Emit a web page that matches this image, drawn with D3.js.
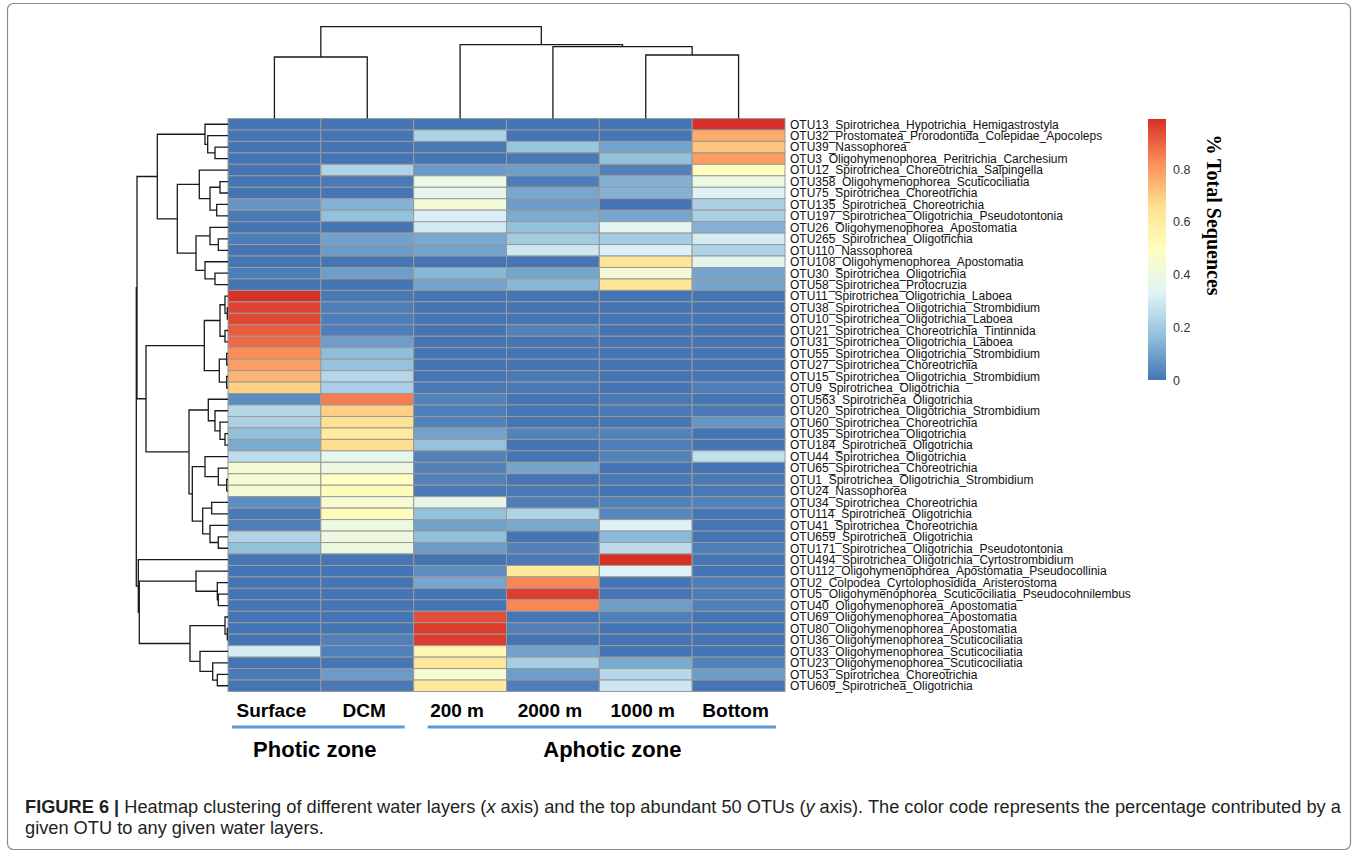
<!DOCTYPE html>
<html>
<head>
<meta charset="utf-8">
<script src="https://cdn.jsdelivr.net/npm/d3@7"></script>
<style>
  body { margin: 0; background: #fff; }
  svg { display: block; }
</style>
</head>
<body>
<script>
// water layers (columns, in dendrogram order)
var layers = ['Surface', 'DCM', '200 m', '2000 m', '1000 m', 'Bottom'];

// OTUs (rows, in dendrogram order)
var otus = [
    'OTU13_Spirotrichea_Hypotrichia_Hemigastrostyla',
    'OTU32_Prostomatea_Prorodontida_Colepidae_Apocoleps',
    'OTU39_Nassophorea',
    'OTU3_Oligohymenophorea_Peritrichia_Carchesium',
    'OTU12_Spirotrichea_Choreotrichia_Salpingella',
    'OTU358_Oligohymenophorea_Scuticociliatia',
    'OTU75_Spirotrichea_Choreotrichia',
    'OTU135_Spirotrichea_Choreotrichia',
    'OTU197_Spirotrichea_Oligotrichia_Pseudotontonia',
    'OTU26_Oligohymenophorea_Apostomatia',
    'OTU265_Spirotrichea_Oligotrichia',
    'OTU110_Nassophorea',
    'OTU108_Oligohymenophorea_Apostomatia',
    'OTU30_Spirotrichea_Oligotrichia',
    'OTU58_Spirotrichea_Protocruzia',
    'OTU11_Spirotrichea_Oligotrichia_Laboea',
    'OTU38_Spirotrichea_Oligotrichia_Strombidium',
    'OTU10_Spirotrichea_Oligotrichia_Laboea',
    'OTU21_Spirotrichea_Choreotrichia_Tintinnida',
    'OTU31_Spirotrichea_Oligotrichia_Laboea',
    'OTU55_Spirotrichea_Oligotrichia_Strombidium',
    'OTU27_Spirotrichea_Choreotrichia',
    'OTU15_Spirotrichea_Oligotrichia_Strombidium',
    'OTU9_Spirotrichea_Oligotrichia',
    'OTU563_Spirotrichea_Oligotrichia',
    'OTU20_Spirotrichea_Oligotrichia_Strombidium',
    'OTU60_Spirotrichea_Choreotrichia',
    'OTU35_Spirotrichea_Oligotrichia',
    'OTU184_Spirotrichea_Oligotrichia',
    'OTU44_Spirotrichea_Oligotrichia',
    'OTU65_Spirotrichea_Choreotrichia',
    'OTU1_Spirotrichea_Oligotrichia_Strombidium',
    'OTU24_Nassophorea',
    'OTU34_Spirotrichea_Choreotrichia',
    'OTU114_Spirotrichea_Oligotrichia',
    'OTU41_Spirotrichea_Choreotrichia',
    'OTU659_Spirotrichea_Oligotrichia',
    'OTU171_Spirotrichea_Oligotrichia_Pseudotontonia',
    'OTU494_Spirotrichea_Oligotrichia_Cyrtostrombidium',
    'OTU112_Oligohymenophorea_Apostomatia_Pseudocollinia',
    'OTU2_Colpodea_Cyrtolophosidida_Aristerostoma',
    'OTU5_Oligohymenophorea_Scuticociliatia_Pseudocohnilembus',
    'OTU40_Oligohymenophorea_Apostomatia',
    'OTU69_Oligohymenophorea_Apostomatia',
    'OTU80_Oligohymenophorea_Apostomatia',
    'OTU36_Oligohymenophorea_Scuticociliatia',
    'OTU33_Oligohymenophorea_Scuticociliatia',
    'OTU23_Oligohymenophorea_Scuticociliatia',
    'OTU53_Spirotrichea_Choreotrichia',
    'OTU609_Spirotrichea_Oligotrichia'
];

// share of total sequences, one array per layer, same order as otus
var surface = [0, 0, 0, 0, 0, 0, 0, 0.07, 0.01, 0,
    0.02, 0, 0, 0.02, 0, 0.99, 0.955, 0.95, 0.91, 0.89,
    0.825, 0.79, 0.75, 0.69, 0.055, 0.24, 0.22, 0.17, 0.12, 0.26,
    0.44, 0.44, 0.43, 0.055, 0.01, 0.02, 0.23, 0.17, 0, 0,
    0, 0, 0, 0, 0, 0, 0.31, 0, 0.01, 0];
var dcm = [0, 0, 0, 0, 0.226, 0.01, 0, 0.137, 0.171, 0,
    0.098, 0.085, 0, 0.089, 0, 0.01, 0.02, 0.02, 0.02, 0.09,
    0.16, 0.175, 0.238, 0.217, 0.855, 0.694, 0.649, 0.601, 0.665, 0.365,
    0.40, 0.49, 0.516, 0.44, 0.516, 0.40, 0.402, 0.40, 0, 0,
    0, 0, 0, 0, 0, 0.025, 0.024, 0, 0.085, 0.01];
var m200 = [0, 0.226, 0.01, 0, 0.08, 0.394, 0.359, 0.425, 0.32, 0.299,
    0.115, 0.10, 0, 0.15, 0.104, 0, 0, 0, 0, 0,
    0, 0, 0, 0.01, 0.03, 0.02, 0.03, 0.10, 0.175, 0.03,
    0.03, 0.03, 0.01, 0.368, 0.171, 0.098, 0.17, 0.085, 0, 0.054,
    0.11, 0, 0, 0.938, 0.969, 0.969, 0.543, 0.617, 0.446, 0.617];
var m2000 = [0, 0, 0.184, 0.01, 0.089, 0.02, 0.11, 0.087, 0.12, 0.17,
    0.20, 0.29, 0, 0.104, 0.148, 0, 0, 0, 0.03, 0,
    0, 0, 0.01, 0.01, 0, 0, 0, 0.03, 0, 0,
    0.104, 0, 0.01, 0.02, 0.226, 0.115, 0, 0.03, 0.01, 0.607,
    0.837, 0.965, 0.837, 0, 0.03, 0, 0.098, 0.211, 0.089, 0.02];
var m1000 = [0, 0, 0.10, 0.17, 0.03, 0.133, 0.135, 0, 0.11, 0.35,
    0.207, 0.32, 0.633, 0.428, 0.633, 0, 0, 0, 0, 0,
    0, 0, 0, 0, 0.01, 0.01, 0, 0.03, 0.02, 0.03,
    0, 0.01, 0, 0.03, 0.04, 0.324, 0.152, 0.255, 0.99, 0.324,
    0, 0, 0.089, 0.024, 0, 0, 0, 0.12, 0.242, 0.29];
var bottom = [0.99, 0.767, 0.714, 0.795, 0.506, 0.40, 0.328, 0.221, 0.215, 0.135,
    0.307, 0.226, 0.359, 0.104, 0.104, 0, 0, 0, 0, 0,
    0, 0, 0, 0.02, 0, 0.01, 0.072, 0, 0, 0.265,
    0, 0.01, 0.01, 0.03, 0, 0, 0, 0.02, 0, 0,
    0.02, 0.02, 0.024, 0, 0, 0, 0, 0.03, 0.087, 0];

// hclust-style merges: negative = leaf -(index+1), positive = earlier merge (1-based)
var rowMerge = [
    [-3, -4, 13], [-2, 1, 20.3], [-1, 2, 23],
    [-6, -7, 8], [-8, -9, 11.3], [4, 5, 18], [-5, 6, 28.7],
    [-11, -12, 9.7], [-10, 8, 18], [-14, -15, 13], [-13, 10, 23],
    [9, 11, 32], [7, 12, 50.7], [3, 13, 70.7],
    [-17, -18, 0.7], [-16, 15, 3], [-19, -20, 3], [16, 17, 8],
    [-21, -22, 1.3], [-23, -24, 1.3], [19, 20, 8.7], [18, 21, 23.7],
    [-28, -29, 3], [-27, 23, 8], [-26, 24, 13], [-25, 25, 19.7],
    [-32, -33, 1.3], [-31, 27, 9.7], [-30, 28, 23],
    [-34, -35, 16.3], [-37, -38, 9.7], [-36, 31, 18], [30, 32, 25.3],
    [29, 33, 35.7], [26, 34, 39], [22, 35, 82], [14, 36, 91],
    [-42, -43, 9.7], [-41, 38, 10.7], [-40, 39, 32],
    [-45, -46, 0.7], [-44, 41, 3], [-49, -50, 10.7], [-48, 43, 15.3],
    [-47, 44, 28], [42, 45, 38], [40, 46, 88.7], [-39, 47, 89.7],
    [37, 48, 91.7]
];
var colMerge = [
    [-1, -2, 61.5], [-5, -6, 63.5], [-4, 2, 71.8], [-3, 3, 73.8], [1, 4, 91.8]
];

var palette = ['#4575B4', '#91BFDB', '#E0F3F8', '#FFFFBF', '#FEE090', '#FC8D59', '#D73027'];
var valueMax = 0.99;
var legendTicks = [0, 0.2, 0.4, 0.6, 0.8];

var zones = [
    {name: 'Photic zone', from: 'Surface', to: 'DCM'},
    {name: 'Aphotic zone', from: '200 m', to: 'Bottom'}
];

var W = 1358, H = 851;
var hm = {left: 228, top: 118.5, right: 785, bottom: 691.5};

var svg = d3.select('body').append('svg')
    .attr('width', W)
    .attr('height', H)
    .style('font-family', '"Liberation Sans", Arial, sans-serif');

svg.append('rect').attr('width', W).attr('height', H).attr('fill', '#fff');

// figure frame
svg.append('rect')
    .attr('x', 7.5).attr('y', 3.5)
    .attr('width', 1343).attr('height', 846)
    .attr('rx', 6)
    .attr('fill', 'none')
    .attr('stroke', '#8c8c8c')
    .attr('stroke-width', 1.2);

var x = d3.scaleBand().domain(layers).range([hm.left, hm.right]);
var y = d3.scaleBand().domain(otus).range([hm.top, hm.bottom]);

var color = d3.scaleLinear()
    .domain(palette.map(function(c, i) { return i * valueMax / (palette.length - 1); }))
    .range(palette)
    .interpolate(d3.interpolateRgb)
    .clamp(true);

var layerValues = [surface, dcm, m200, m2000, m1000, bottom];
var cells = [];
otus.forEach(function(otu, i) {
    layers.forEach(function(layer, j) {
        cells.push({otu: otu, layer: layer, value: layerValues[j][i]});
    });
});

svg.append('g')
    .selectAll('rect')
    .data(cells)
    .join('rect')
    .attr('x', function(d) { return x(d.layer); })
    .attr('y', function(d) { return y(d.otu); })
    .attr('width', x.bandwidth())
    .attr('height', y.bandwidth())
    .attr('fill', function(d) { return color(d.value); })
    .attr('stroke', '#999')
    .attr('stroke-width', 1);

// row labels
svg.append('g')
    .selectAll('text')
    .data(otus)
    .join('text')
    .attr('x', hm.right + 5)
    .attr('y', function(d) { return y(d) + y.bandwidth() / 2; })
    .attr('dy', '0.36em')
    .attr('font-size', 12)
    .attr('fill', '#111')
    .text(function(d) { return d; });

// dendrograms
function drawTree(merge, leafPos, hScale, vertical) {
    var nodes = [];
    var path = d3.path();

    function get(k) {
        return k < 0 ? {p: leafPos(-k - 1), h: 0} : nodes[k - 1];
    }
    function pt(p, h) {
        return vertical ? [p, hScale(h)] : [hScale(h), p];
    }

    merge.forEach(function(m) {
        var a = get(m[0]), b = get(m[1]);
        var p0 = pt(a.p, a.h), p1 = pt(a.p, m[2]), p2 = pt(b.p, m[2]), p3 = pt(b.p, b.h);
        path.moveTo(p0[0], p0[1]);
        path.lineTo(p1[0], p1[1]);
        path.lineTo(p2[0], p2[1]);
        path.lineTo(p3[0], p3[1]);
        nodes.push({p: (a.p + b.p) / 2, h: m[2]});
    });

    svg.append('path')
        .attr('d', path.toString())
        .attr('fill', 'none')
        .attr('stroke', '#1a1a1a')
        .attr('stroke-width', 1.3);
}

var rowH = d3.scaleLinear().domain([0, d3.max(rowMerge, function(m) { return m[2]; })])
    .range([hm.left, 136.3]);
drawTree(rowMerge, function(i) { return y(otus[i]) + y.bandwidth() / 2; }, rowH, false);

var colH = d3.scaleLinear().domain([0, d3.max(colMerge, function(m) { return m[2]; })])
    .range([hm.top, 26.7]);
drawTree(colMerge, function(i) { return x(layers[i]) + x.bandwidth() / 2; }, colH, true);

// column labels
svg.append('g')
    .selectAll('text')
    .data(layers)
    .join('text')
    .attr('x', function(d) { return x(d) + x.bandwidth() / 2 - 3; })
    .attr('y', 717)
    .attr('text-anchor', 'middle')
    .attr('font-size', 19)
    .attr('font-weight', 'bold')
    .attr('fill', '#000')
    .text(function(d) { return d; });

// zone bars and names
var zoneG = svg.append('g')
    .selectAll('g')
    .data(zones)
    .join('g');

zoneG.append('line')
    .attr('x1', function(d, i) { return x(d.from) + (i === 0 ? 4 : 14); })
    .attr('x2', function(d) { return x(d.to) + x.bandwidth() - 9; })
    .attr('y1', 727)
    .attr('y2', 727)
    .attr('stroke', '#5B9BD5')
    .attr('stroke-width', 3);

zoneG.append('text')
    .attr('x', function(d, i) {
        return (x(d.from) + x(d.to) + x.bandwidth()) / 2 + (i === 0 ? -6 : 13);
    })
    .attr('y', 757)
    .attr('text-anchor', 'middle')
    .attr('font-size', 22)
    .attr('font-weight', 'bold')
    .attr('fill', '#000')
    .text(function(d) { return d.name; });

// colour legend
var legend = {x: 1148, w: 18, top: 119, bottom: 380};
var grad = svg.append('defs').append('linearGradient')
    .attr('id', 'legend-grad')
    .attr('x1', 0).attr('y1', 1).attr('x2', 0).attr('y2', 0);
grad.selectAll('stop')
    .data(palette)
    .join('stop')
    .attr('offset', function(d, i) { return i / (palette.length - 1); })
    .attr('stop-color', function(d) { return d; });

svg.append('rect')
    .attr('x', legend.x).attr('y', legend.top)
    .attr('width', legend.w).attr('height', legend.bottom - legend.top)
    .attr('fill', 'url(#legend-grad)');

var legY = d3.scaleLinear().domain([0, valueMax]).range([legend.bottom, legend.top]);
var legAxis = svg.append('g')
    .attr('transform', 'translate(' + (legend.x + legend.w) + ',0)')
    .call(d3.axisRight(legY).tickValues(legendTicks).tickSize(0).tickPadding(7)
        .tickFormat(d3.format('~g')));
legAxis.select('.domain').remove();
legAxis.selectAll('text')
    .attr('font-size', 12.5)
    .attr('font-family', '"Liberation Sans", Arial, sans-serif')
    .attr('fill', '#333');

svg.append('text')
    .attr('transform', 'translate(1207,215) rotate(90)')
    .attr('text-anchor', 'middle')
    .attr('font-family', '"Liberation Serif", "Times New Roman", serif')
    .attr('font-weight', 'bold')
    .attr('font-size', 20)
    .attr('fill', '#000')
    .text('% Total Sequences');

// caption
var cap = svg.append('g')
    .attr('font-size', 18)
    .attr('fill', '#231F20');

var line1 = cap.append('text').attr('x', 25).attr('y', 813);
line1.append('tspan').attr('font-weight', 'bold').text('FIGURE 6 | ');
line1.append('tspan').text('Heatmap clustering of different water layers (');
line1.append('tspan').attr('font-style', 'italic').text('x');
line1.append('tspan').text(' axis) and the top abundant 50 OTUs (');
line1.append('tspan').attr('font-style', 'italic').text('y');
line1.append('tspan').text(' axis). The color code represents the percentage contributed by a');

cap.append('text').attr('x', 25).attr('y', 834)
    .text('given OTU to any given water layers.');

// fit the first caption line to the figure width
var capLen = line1.node().getComputedTextLength();
cap.attr('font-size', 18 * 1316 / capLen);
</script>
</body>
</html>
